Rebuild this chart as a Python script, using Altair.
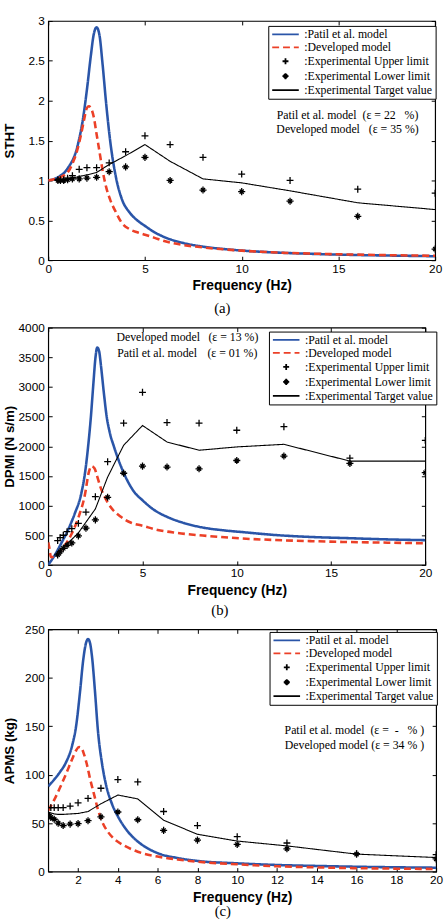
import altair as alt
import pandas as pd

SANS = "Liberation Sans"
SERIF = "Liberation Serif"
NB = "\u00a0"

SERIES = [":Patil et al. model", ":Developed model", ":Experimental Upper limit",
          ":Experimental Lower limit", ":Experimental Target value"]
COLORS = ["#2a55a8", "#ec4027", "#000000", "#000000", "#000000"]
DASHES = [[1, 0], [7, 4], [1, 0], [1, 0], [1, 0]]
LINE_PATH = "M-2.7,0L2.7,0"
PLUS_PATH = "M-0.6,0L0.6,0M0,-0.6L0,0.6"
STAR_PATH = ("M-0.62,0L0.62,0M0,-0.62L0,0.62"
             "M-0.36,-0.36L0.36,0.36M-0.36,0.36L0.36,-0.36")
SHAPES = [LINE_PATH, LINE_PATH, PLUS_PATH, STAR_PATH, LINE_PATH]

# one-third octave test frequencies (Hz)
BANDS = [0.5, 0.63, 0.8, 1.0, 1.25, 1.6, 2.0, 2.5, 3.15, 4.0, 5.0, 6.3, 8.0,
         10.0, 12.5, 16.0, 20.0]

# ---- (a) seat-to-head transmissibility ----
A_BLUE_F = [0, 0.5, 1, 1.5, 1.8, 2.0, 2.2, 2.35, 2.5, 2.65, 2.8, 3.0, 3.2, 3.5,
            3.8, 4.2, 4.6, 5, 5.5, 6, 7, 8, 9, 10, 12, 14, 16, 18, 20]
A_BLUE = [1.0, 1.04, 1.15, 1.42, 1.78, 2.14, 2.56, 2.83, 2.92, 2.82, 2.48, 1.95,
          1.50, 1.04, 0.77, 0.60, 0.50, 0.43, 0.35, 0.29, 0.215, 0.17, 0.142,
          0.121, 0.094, 0.077, 0.065, 0.057, 0.05]
A_RED_F = [0, 0.5, 1, 1.3, 1.5, 1.7, 1.85, 2.0, 2.1, 2.2, 2.35, 2.5, 2.65, 2.8,
           3.0, 3.2, 3.5, 3.8, 4.2, 4.6, 5, 5.5, 6, 7, 8, 10, 12, 14, 16, 18, 20]
A_RED = [1.0, 1.03, 1.10, 1.24, 1.38, 1.58, 1.76, 1.91, 1.93, 1.91, 1.80, 1.58,
         1.36, 1.14, 0.91, 0.76, 0.60, 0.47, 0.39, 0.35, 0.32, 0.28, 0.24, 0.19,
         0.16, 0.12, 0.095, 0.08, 0.07, 0.062, 0.055]
A_TARGET = [1.0, 1.0, 1.01, 1.02, 1.03, 1.05, 1.07, 1.10, 1.20, 1.31, 1.45, 1.24,
            1.02, 0.97, 0.87, 0.72, 0.635]
A_UPPER = [1.01, 1.01, 1.01, 1.03, 1.06, 1.14, 1.16, 1.16, 1.22, 1.36, 1.56, 1.45,
           1.29, 1.08, 1.0, 0.89, 0.84]
A_LOWER = [1.0, 1.0, 1.0, 1.01, 1.02, 1.02, 1.03, 1.04, 1.11, 1.17, 1.29, 1.0,
           0.88, 0.86, 0.74, 0.55, 0.14]

# ---- (b) driving-point mechanical impedance ----
B_BLUE_F = [0, 0.35, 0.7, 1.05, 1.4, 1.75, 1.95, 2.1, 2.25, 2.4, 2.5, 2.6, 2.7,
            2.8, 2.95, 3.1, 3.25, 3.5, 3.86, 4.2, 4.56, 5, 5.6, 6.3, 7.2, 8.2,
            9.3, 10.3, 12, 14, 16, 18, 20]
B_BLUE = [0, 167, 370, 590, 860, 1200, 1550, 1950, 2450, 3080, 3480, 3665, 3600,
          3350, 2900, 2500, 2250, 1980, 1660, 1420, 1230, 1090, 930, 810, 706,
          630, 583, 553, 505, 470, 450, 430, 417]
B_RED_F = [0, 0.05, 0.15, 0.5, 0.9, 1.25, 1.6, 1.95, 2.15, 2.3, 2.45, 2.6, 2.75,
           3.0, 3.3, 3.85, 4.4, 5, 5.8, 6.8, 8.2, 10.3, 12, 14, 16, 18, 20]
B_RED = [380, 300, 130, 190, 340, 530, 800, 1190, 1560, 1665, 1630, 1490, 1330,
         1140, 980, 810, 710, 660, 590, 540, 495, 445, 420, 400, 385, 375, 365]
B_TARGET = [215, 255, 300, 360, 430, 540, 720, 944, 1480, 2017, 2350, 2072, 1933,
            1989, 2033, 1750, 1750]
B_UPPER = [410, 460, 500, 560, 610, 700, 890, 1150, 1740, 2390, 2910, 2400, 2390,
           2270, 2330, 1800, 2100]
B_LOWER = [170, 220, 280, 330, 370, 490, 620, 760, 1140, 1545, 1665, 1650, 1620,
           1760, 1835, 1710, 1555]

# ---- (c) apparent mass ----
C_BLUE_F = [0.5, 0.8, 1.1, 1.4, 1.7, 1.9, 2.1, 2.25, 2.4, 2.5, 2.6, 2.7, 2.85,
            3.0, 3.2, 3.4, 3.7, 4.0, 4.4, 5, 5.5, 6, 7, 8, 10, 12, 14, 16, 18, 20]
C_BLUE = [88, 95, 103, 113, 130, 150, 186, 217, 236, 240, 236, 222, 186, 145, 112,
          90, 70, 57, 44, 31, 24, 19, 14, 11, 8.5, 6.8, 5.8, 5, 4.4, 4]
C_RED_F = [0.5, 0.8, 1.1, 1.4, 1.7, 1.9, 2.05, 2.15, 2.3, 2.45, 2.6, 2.8, 3.0,
           3.2, 3.5, 3.8, 4.3, 5, 6, 7, 8, 10, 12, 14, 16, 18, 20]
C_RED = [63, 74, 87, 101, 116, 125, 128.5, 128, 121, 110, 96, 80, 64, 52, 41, 34,
         27, 20.5, 15.5, 12.5, 10.2, 7.5, 5.5, 4.3, 3.5, 3, 2.7]
C_TARGET = [61, 60.5, 59.5, 59, 59, 59.5, 60, 62, 70, 79, 75, 53, 38.5, 31.5,
            26.5, 18, 14.5]
C_UPPER = [66, 66, 66, 66, 66, 67.5, 71, 75.5, 86, 95, 92.5, 62, 47.5, 36, 29.5,
           18.5, 17.5]
C_LOWER = [59, 56, 54, 50, 47.5, 49, 49.5, 52.5, 56.5, 61.5, 53.5, 42.5, 32.5, 28,
           23.5, 18, 13]


def series_frame(freqs, values, name):
    return pd.DataFrame({"f": freqs, "v": values, "series": name})


def note(text, x, y, align="center"):
    return alt.Chart(pd.DataFrame({"t": [text]})).mark_text(
        font=SERIF, fontSize=12, color="black", align=align, baseline="middle"
    ).encode(text="t:N", x=alt.value(x), y=alt.value(y))


def tick_axis(orient, offset, values):
    # tick-only axis laid over the frame so that ticks point into the plot
    return alt.Axis(orient=orient, offset=offset, values=values, labels=False,
                    ticks=True, tickSize=4, domain=False, grid=False, title=None)


def panel(blue, red, target, upper, lower, xdom, xticks, ydom, yticks, yfmt,
          ytitle, caption, cap_offset, w, h, lx, ly, notes):
    lg = alt.Legend(title=None, orient="none", legendX=lx, legendY=ly,
                    fillColor="white", strokeColor="black", padding=2.5,
                    rowPadding=1.2, labelFont=SERIF, labelFontSize=12,
                    labelColor="black", labelLimit=400, symbolSize=100,
                    symbolOffset=9, labelOffset=13, symbolStrokeWidth=1.8)
    color = alt.Color("series:N", scale=alt.Scale(domain=SERIES, range=COLORS), legend=lg)
    dash = alt.StrokeDash("series:N", scale=alt.Scale(domain=SERIES, range=DASHES), legend=lg)
    shape = alt.Shape("series:N", scale=alt.Scale(domain=SERIES, range=SHAPES), legend=lg)
    xs = alt.Scale(domain=xdom, nice=False, zero=False)
    ys = alt.Scale(domain=ydom, nice=False, zero=False)

    x_main = alt.Axis(orient="bottom", values=xticks, format="d", ticks=False,
                      domain=False, grid=False, labelPadding=3, labelFlush=False,
                      labelOverlap=False, title="Frequency (Hz)", titlePadding=5)
    y_main = alt.Axis(orient="left", values=yticks, format=yfmt, ticks=False,
                      domain=False, grid=False, labelPadding=4, labelOverlap=False,
                      title=ytitle, titleX=-39, titleY=h / 2,
                      titleBaseline="middle", titleFontSize=13.5)

    models = pd.concat([series_frame(blue[0], blue[1], SERIES[0]),
                        series_frame(red[0], red[1], SERIES[1])])
    target_df = series_frame(BANDS, target, SERIES[4])
    points = pd.concat([series_frame(BANDS, upper, SERIES[2]),
                        series_frame(BANDS, lower, SERIES[3])])

    model_lines = alt.Chart(models).mark_line(
        clip=True, interpolate="monotone", strokeWidth=2.6
    ).encode(
        x=alt.X("f:Q", scale=xs, axis=x_main),
        y=alt.Y("v:Q", scale=ys, axis=y_main),
        color=color, strokeDash=dash,
    )
    target_line = alt.Chart(target_df).mark_line(clip=True, strokeWidth=1.1).encode(
        x=alt.X("f:Q", scale=xs, axis=tick_axis("bottom", -h, xticks)),
        y=alt.Y("v:Q", scale=ys, axis=tick_axis("left", -w, yticks)),
        color=color, strokeDash=dash,
    )
    markers = alt.Chart(points).mark_point(
        clip=True, size=136, strokeWidth=1.3, opacity=1, filled=False
    ).encode(
        x=alt.X("f:Q", scale=xs, axis=tick_axis("top", -h, xticks)),
        y=alt.Y("v:Q", scale=ys, axis=tick_axis("right", -w, yticks)),
        color=color, shape=shape,
    )

    layers = [model_lines, target_line, markers] + [note(*n) for n in notes]
    return alt.layer(*layers).resolve_axis(
        x="independent", y="independent"
    ).properties(
        width=w, height=h,
        title=alt.TitleParams(caption, orient="bottom", font=SERIF, fontSize=15,
                              fontWeight="normal", color="black", offset=cap_offset,
                              anchor="middle", frame="bounds"),
    )


pa = panel((A_BLUE_F, A_BLUE), (A_RED_F, A_RED), A_TARGET, A_UPPER, A_LOWER,
           [0, 20], [0, 5, 10, 15, 20], [0, 3], [0, 0.5, 1, 1.5, 2, 2.5, 3], "~g",
           "STHT", "(a)", 8.5, 393, 243, 223.5, 5,
           [(f"Patil et al. model{NB*2}(ε = 22{NB*3}%)", 304, 95.7),
            (f"Developed model{NB*3}(ε = 35 %)", 304, 110)])

pb = panel((B_BLUE_F, B_BLUE), (B_RED_F, B_RED), B_TARGET, B_UPPER, B_LOWER,
           [0, 20], [0, 5, 10, 15, 20], [0, 4000], list(range(0, 4001, 500)), "d",
           "DPMI (N s/m)", "(b)", 6.2, 383, 241, 224.2, 4,
           [("Developed model", 69.3, 10, "left"),
            ("(ε = 13 %)", 162.7, 10, "left"),
            ("Patil et al. model", 70, 26.3, "left"),
            ("(ε = 01 %)", 161.7, 26.3, "left")])

pc = panel((C_BLUE_F, C_BLUE), (C_RED_F, C_RED), C_TARGET, C_UPPER, C_LOWER,
           [0.5, 20], list(range(2, 21, 2)), [0, 250], [0, 50, 100, 150, 200, 250], "d",
           "APMS (kg)", "(c)", 0, 394, 246, 224.8, 2.6,
           [(f"Patil et al. model{NB*2}(ε ={NB*2}-{NB*3}% )", 311, 102),
            ("Developed model (ε = 34 % )", 311, 117.6)])

chart = alt.vconcat(pa, pb, pc, spacing=3.5).resolve_scale(
    x="independent", y="independent", color="independent",
    strokeDash="independent", shape="independent",
).resolve_legend(
    color="independent", strokeDash="independent", shape="independent"
).properties(
    padding={"left": 2, "top": 7, "right": 0, "bottom": 0},
    background="white",
).configure_view(
    stroke="black", strokeWidth=1.2
).configure_axis(
    labelFont=SANS, labelFontSize=12, labelColor="black",
    titleFont=SANS, titleFontSize=14, titleFontWeight="bold", titleColor="black",
    tickColor="black", tickWidth=1,
)

chart.save("out.html", embed_options={"renderer": "svg", "actions": False})
